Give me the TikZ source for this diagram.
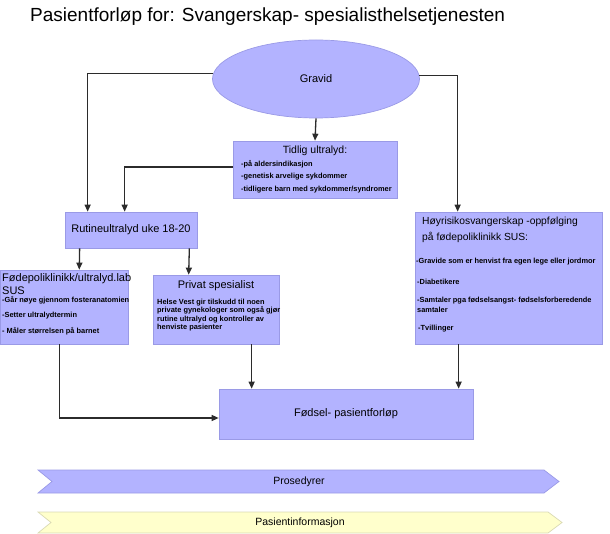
\documentclass[tikz,border=0pt]{standalone}
\usepackage{fontspec}
\setmainfont{Liberation Sans}
\usetikzlibrary{shapes.geometric,arrows.meta,fit,calc}
\definecolor{boxfill}{HTML}{B3B3FF}
\definecolor{boxline}{HTML}{9A9AE6}
\definecolor{yelfill}{HTML}{FFFFCC}
\definecolor{yelline}{HTML}{DADAB4}
\definecolor{conn}{HTML}{2B2B2B}
\tikzset{
  box/.style={draw=boxline, fill=boxfill, line width=0.7pt, rectangle, inner sep=0pt},
  ell/.style={draw=boxline, fill=boxfill, line width=0.7pt, ellipse, inner sep=0pt},
  arr/.style={draw=conn, line width=1.3pt, -{Triangle[length=7pt,width=6pt]}},
  big/.style={inner sep=0pt, font=\fontsize{11}{13}\selectfont},
  small/.style={inner sep=0pt, font=\fontsize{7.4}{8.3}\selectfont\bfseries},
  band/.style={line width=0.7pt}
}
\begin{document}
\begin{tikzpicture}[x=1pt,y=-1pt]
\useasboundingbox (0,0) rectangle (610,534);
% title
\node[anchor=west, inner sep=0pt, font=\fontsize{19}{22}\selectfont] (title) at (30,17) {Pasientforløp for: Svangerskap- spesialisthelsetjenesten};
% Gravid
\node[ell, minimum width=207pt, minimum height=78pt, font=\fontsize{11}{13}\selectfont] (gravid) at (316,79) {Gravid};
% Tidlig ultralyd
\node[box, fit={(233,141) (397,198)}] (tidlig) {};
\node[big, font=\fontsize{10.5}{12}\selectfont] (tidligT) at (315,150.5) {Tidlig ultralyd:};
\node[small, anchor=west] (t1) at (241,164) {-på aldersindikasjon};
\node[small, anchor=west] (t2) at (241,177) {-genetisk arvelige sykdommer};
\node[small, anchor=west] (t3) at (241,190) {-tidligere barn med sykdommer/syndromer};
% Rutineultralyd
\node[box, fit={(65,212) (197,248)}] (rut) {};
\node[big] (rutT) at (131,230) {Rutineultralyd uke 18-20};
% Fødepoliklinikk
\node[box, fit={(0.5,270) (128,344)}] (fode) {};
\node[big, anchor=west] (f0) at (2,279) {Fødepoliklinikk/ultralyd.lab};
\node[big, anchor=west] (f1) at (2,291) {SUS};
\node[small, anchor=west] (f2) at (2,300.5) {-Går nøye gjennom fosteranatomien};
\node[small, anchor=west] (f3) at (2,316) {-Setter ultralydtermin};
\node[small, anchor=west] (f4) at (2,331) {- Måler størrelsen på barnet};
% Privat spesialist
\node[box, fit={(153,275) (279,344)}] (privat) {};
\node[big] (pT) at (216,286) {Privat spesialist};
\node[small, anchor=north west, align=left] (pB) at (157,299) {Helse Vest gir tilskudd til noen\\private gynekologer som også gjør\\rutine ultralyd og kontroller av\\henviste pasienter};
% Høyrisiko
\node[box, fit={(415,212) (602,344)}] (hoy) {};
\node[big, anchor=west, font=\fontsize{10.3}{12}\selectfont] (h0) at (422,222) {Høyrisikosvangerskap -oppfølging};
\node[big, anchor=west, font=\fontsize{10.3}{12}\selectfont] (h1) at (422,237.5) {på fødepoliklinikk SUS:};
\node[small, anchor=west] (h2) at (416,262) {-Gravide som er henvist fra egen lege eller jordmor};
\node[small, anchor=west] (h3) at (417,282) {-Diabetikere};
\node[small, anchor=west] (h4) at (417,301) {-Samtaler pga fødselsangst- fødselsforberedende};
\node[small, anchor=west] (h5) at (417,310) {samtaler};
\node[small, anchor=west] (h6) at (418,328.5) {-Tvillinger};
% Fødsel
\node[box, fit={(219,389) (473,439)}] (fodsel) {};
\node[big] (fT) at (346,414) {Fødsel- pasientforløp};
% connectors
\draw[arr] (gravid.177) -| ([xshift=23pt]rut.north west);
\draw[arr] (gravid.south) -- (tidlig.north);
\draw[arr] ([yshift=2.5pt]tidlig.west) -| ([xshift=60pt]rut.north west);
\draw[arr] (gravid.2) -| ([xshift=43pt]hoy.north west);
\draw[arr] ([xshift=15pt]rut.south west) -- ([xshift=15pt]fode.north);
\draw[arr] ([xshift=-8pt]rut.south east) -- ([xshift=36pt]privat.north west);
\draw[arr] ([xshift=99pt]privat.south west) -- ([xshift=33pt]fodsel.north west);
\draw[arr] ([xshift=44pt]hoy.south west) -- ([xshift=240pt]fodsel.north west);
\draw[arr] ([xshift=-5pt]fode.south) |- ([yshift=-4pt]fodsel.west);
% bands
\path[band, draw=boxline, fill=boxfill] (38,470) -- (544,470) -- (559,481.5) -- (544,493) -- (38,493) -- (52,481.5) -- cycle;
\node[big, font=\fontsize{10.5}{12}\selectfont] (pros) at (299,481.5) {Prosedyrer};
\path[band, draw=yelline, fill=yelfill] (38,512) -- (548,512) -- (562,522.5) -- (548,533) -- (38,533) -- (51,522.5) -- cycle;
\node[big, font=\fontsize{10.5}{12}\selectfont] (pinf) at (300,522.5) {Pasientinformasjon};
\end{tikzpicture}
\end{document}
